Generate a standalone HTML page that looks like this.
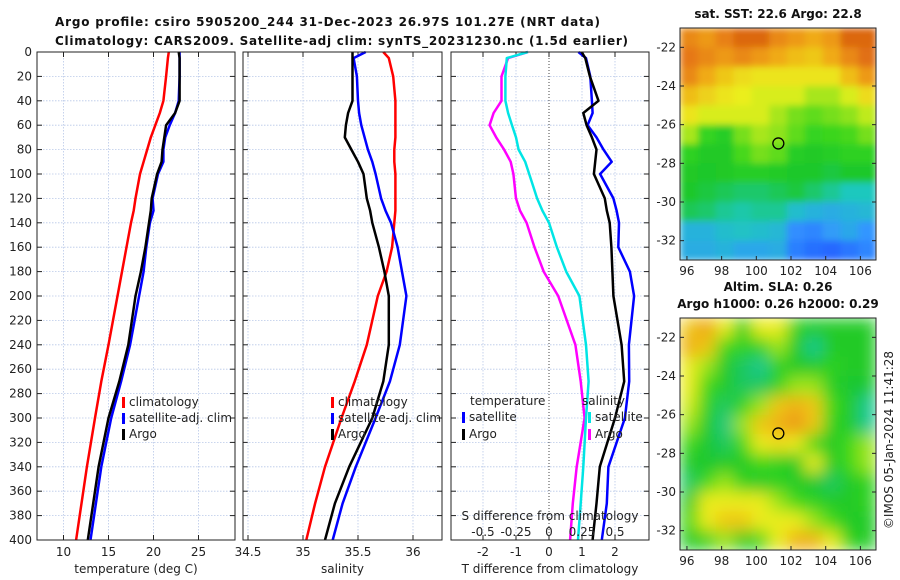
<!DOCTYPE html>
<html><head><meta charset="utf-8">
<style>
html,body{margin:0;padding:0;background:#fff;width:900px;height:580px;overflow:hidden}
svg{display:block;font-family:"DejaVu Sans","Liberation Sans",sans-serif}
.t{font-size:12px;fill:#222}
.b{font-size:12px;font-weight:bold;fill:#111}
</style></head>
<body>
<svg id="fig" width="900" height="580" viewBox="0 0 900 580" xmlns="http://www.w3.org/2000/svg">
<defs>
<filter id="blurS" x="0" y="0" width="1" height="1"><feGaussianBlur stdDeviation="3.5" edgeMode="duplicate"/></filter>
<filter id="blurA" x="0" y="0" width="1" height="1"><feGaussianBlur stdDeviation="8" edgeMode="duplicate"/></filter>
<clipPath id="c1"><rect x="680" y="28" width="196" height="232"/></clipPath>
<clipPath id="c2"><rect x="680" y="318" width="196" height="232"/></clipPath>
</defs>
<text class="b" x="55" y="26" textLength="545">Argo profile: csiro 5905200_244 31-Dec-2023 26.97S 101.27E (NRT data)</text>
<text class="b" x="55" y="45" textLength="573">Climatology: CARS2009. Satellite-adj clim: synTS_20231230.nc (1.5d earlier)</text>
<g id="root"></g>
<text class="t" transform="translate(893,440) rotate(-90)" text-anchor="middle">©IMOS 05-Jan-2024 11:41:28</text>
</svg>
<script>
// ---- data ----
const depths      = [0,5,20,40,50,60,70,80,90,100,120,130,140,160,180,200,240,270,300,340,370,400];
const tempClim    = [21.7,21.6,21.4,21.1,20.7,20.2,19.7,19.3,18.9,18.5,18.0,17.8,17.5,17.0,16.5,16.0,15.0,14.2,13.5,12.6,12.0,11.4];
const tempSat     = [22.9,22.9,22.9,22.8,22.4,21.8,21.3,21.1,21.1,20.5,19.9,20.0,19.6,19.2,18.9,18.4,17.4,16.4,15.3,14.2,13.6,13.0];
const tempArgo    = [22.8,22.9,22.9,22.9,22.4,21.4,21.2,21.0,20.9,20.4,19.8,19.7,19.5,19.1,18.6,18.0,17.2,16.2,15.0,13.9,13.3,12.7];
const salClim     = [35.73,35.78,35.82,35.84,35.84,35.84,35.84,35.83,35.83,35.84,35.84,35.84,35.83,35.81,35.76,35.68,35.58,35.47,35.35,35.20,35.11,35.03];
const salSat      = [35.57,35.46,35.49,35.50,35.51,35.53,35.56,35.59,35.63,35.66,35.71,35.75,35.80,35.86,35.90,35.94,35.88,35.79,35.66,35.48,35.36,35.27];
const salArgo     = [35.45,35.45,35.45,35.45,35.41,35.39,35.38,35.44,35.50,35.55,35.58,35.61,35.63,35.69,35.74,35.78,35.78,35.73,35.63,35.42,35.29,35.20];
const dTSat       = [0.89,1.12,1.25,1.30,1.32,1.17,1.44,1.65,1.90,1.55,1.95,2.05,2.12,2.10,2.45,2.58,2.42,2.43,2.30,1.80,1.75,1.60];
const dTArgo      = [0.99,1.10,1.24,1.50,1.04,1.14,1.30,1.44,1.40,1.36,1.69,1.75,1.84,1.89,1.92,1.95,2.20,2.28,2.00,1.54,1.44,1.32];
const dSArgo      = [-0.16,-0.31,-0.36,-0.36,-0.42,-0.45,-0.40,-0.34,-0.29,-0.27,-0.25,-0.22,-0.17,-0.11,-0.04,0.07,0.20,0.24,0.27,0.21,0.18,0.16];
const dSSat       = [-0.16,-0.32,-0.33,-0.33,-0.31,-0.28,-0.25,-0.23,-0.18,-0.15,-0.09,-0.05,0.00,0.06,0.13,0.23,0.28,0.30,0.28,0.26,0.24,0.22];
const depthTicks  = [0,20,40,60,80,100,120,140,160,180,200,220,240,260,280,300,320,340,360,380,400];
const tempTicks   = [10,15,20,25];
const salTicks    = [34.5,35,35.5,36];
const dTTicks     = [-2,-1,0,1,2];
const dSTicks     = [-0.5,-0.25,0,0.25,0.5];
const dSTickLabels= ["-0.5","-0.25","0","0.25","0.5"];
const lonTicks    = [96,98,100,102,104,106];
const latTicks    = [-22,-24,-26,-28,-30,-32];
const sstGrid = [
[24.2,24.0,24.3,24.6,24.6,24.2,24.0,23.8,24.0,24.6,24.6],
[24.4,24.2,24.0,24.2,24.0,23.8,23.6,23.5,23.8,24.2,24.5],
[24.2,23.8,23.5,23.3,23.2,23.2,23.2,23.2,23.2,23.6,24.0],
[23.6,23.4,23.2,23.1,23.0,23.0,23.0,22.8,22.8,23.0,23.3],
[23.2,23.0,23.0,23.0,23.0,22.8,22.6,22.5,22.6,22.7,22.9],
[22.8,22.2,21.8,22.6,22.8,22.7,22.5,22.2,22.3,22.4,22.6],
[22.0,21.6,21.6,22.4,22.6,22.5,21.8,21.6,21.8,22.0,22.0],
[21.6,21.5,21.6,21.8,21.8,21.7,21.5,21.5,21.4,21.5,21.5],
[21.5,21.4,21.3,21.2,21.2,21.3,21.4,21.2,21.0,20.8,20.8],
[21.3,21.2,21.0,20.9,21.0,21.0,20.6,20.4,20.3,20.4,20.5],
[20.4,20.4,20.6,20.7,20.6,20.5,19.8,19.7,20.0,20.2,19.9],
[20.3,20.3,20.4,20.2,20.2,20.3,19.6,19.4,19.3,19.5,19.7]];
const slaGrid = [
[0.35,0.40,0.30,0.15,0.30,0.30,0.15,0.10,0.10,0.10,0.10],
[0.38,0.35,0.20,0.15,0.15,0.25,0.10,0.02,0.10,0.10,0.10],
[0.30,0.25,0.10,0.05,0.02,0.15,0.10,0.10,0.15,0.10,0.10],
[0.30,0.20,0.10,0.05,0.05,0.15,0.25,0.25,0.12,0.08,0.08],
[0.28,0.15,0.05,0.15,0.25,0.35,0.38,0.35,0.20,0.10,0.02],
[0.25,0.10,0.03,0.25,0.35,0.38,0.42,0.35,0.15,0.10,0.02],
[0.20,0.08,0.05,0.20,0.30,0.32,0.30,0.20,0.10,0.20,0.25],
[0.10,0.08,0.10,0.10,0.20,0.15,0.10,0.30,0.10,0.20,0.25],
[0.05,0.20,0.25,0.15,0.10,0.15,0.10,0.08,0.05,0.10,0.15],
[0.10,0.30,0.30,0.30,0.30,0.25,0.20,0.15,0.10,0.10,0.15],
[0.20,0.30,0.35,0.35,0.30,0.30,0.30,0.25,0.20,0.10,0.10],
[0.10,0.15,0.25,0.10,0.20,0.30,0.38,0.38,0.30,0.15,0.10]];
const argoLon = 101.27, argoLat = -26.97;

// ---- helpers ----
const NS="http://www.w3.org/2000/svg";
const root=document.getElementById('root');
function el(tag,attrs,parent){const e=document.createElementNS(NS,tag);for(const k in attrs)e.setAttribute(k,attrs[k]);(parent||root).appendChild(e);return e;}
function txt(x,y,s,anchor,parent,size){const e=el('text',{x:x,y:y,'text-anchor':anchor||'start',class:'t'},parent);if(size)e.setAttribute('font-size',size);e.textContent=s;return e;}
const Y0=52,Y1=540;
const yD=d=>Y0+(d/400)*(Y1-Y0);
function lin(d0,d1,r0,r1){return v=>r0+(v-d0)/(d1-d0)*(r1-r0);}

function panel(name,x0,x1,xs,xt,xl,xtitle){
  const g=el('g',{});
  
  
  el('rect',{x:x0,y:Y0,width:x1-x0,height:Y1-Y0,fill:'#fff'},g);
  depthTicks.forEach(d=>{
    if(d>0&&d<400){const l=el('line',{x1:x0,x2:x1,y1:yD(d),y2:yD(d),stroke:'#b8c8e8','stroke-width':0.8,'stroke-dasharray':'1.5 1.5'},g);
      }
    el('line',{x1:x0,x2:x0+5,y1:yD(d),y2:yD(d),stroke:'#222'},g);
    el('line',{x1:x1,x2:x1-5,y1:yD(d),y2:yD(d),stroke:'#222'},g);
  });
  xt.forEach((v,i)=>{
    const X=xs(v);
    if(X>x0+1&&X<x1-1){const zero=(v===0&&name==='diff-panel');
      el('line',{x1:X,x2:X,y1:Y0,y2:Y1,stroke:zero?'#444':'#b8c8e8','stroke-width':zero?1:0.8,'stroke-dasharray':zero?'1 2':'1.5 1.5'},g);}
    el('line',{x1:X,x2:X,y1:Y1,y2:Y1-5,stroke:'#222'},g);
    el('line',{x1:X,x2:X,y1:Y0,y2:Y0+5,stroke:'#222'},g);
    const t=txt(X,556,xl?xl[i]:String(v),'middle',g);
    
  });
  const tt=txt((x0+x1)/2,573,xtitle,'middle',g);
  
  return g;
}
function frame(g,x0,x1){el('rect',{x:x0,y:Y0,width:x1-x0,height:Y1-Y0,fill:'none',stroke:'#222','stroke-width':1},g);}
function line(g,xs,vals,color,name,w){
  const p=vals.map((v,i)=>xs(v).toFixed(1)+','+yD(depths[i]).toFixed(1)).join(' ');
  const l=el('polyline',{points:p,fill:'none',stroke:color,'stroke-width':w||2.5,'stroke-linejoin':'round'},g);
  
  
}
function legend(g,x,y,color,label,name){
  const r=el('rect',{x:x,y:y-9,width:3,height:11,fill:color},g);
  
  const t=txt(x+7,y,label,'start',g,13);
  
}

// depth labels
depthTicks.forEach(d=>{const t=txt(32,yD(d)+4,String(d),'end',root,12.5);});

// Panel 1 temperature
const xT=lin(10,25,63.5,198.5);
const p1=panel('temperature-panel',37,235,xT,tempTicks,null,'temperature (deg C)');
line(p1,xT,tempClim,'#ff0000','temp-climatology-line');
line(p1,xT,tempSat,'#0000ff','temp-satellite-line');
line(p1,xT,tempArgo,'#000000','temp-argo-line');
legend(p1,122,406,'#ff0000','climatology','legend-climatology');
legend(p1,122,422,'#0000ff','satellite-adj. clim','legend-satellite');
legend(p1,122,438,'#000000','Argo','legend-argo');
frame(p1,37,235);

// Panel 2 salinity
const xS=lin(34.5,36,248,413);
const p2=panel('salinity-panel',243,442,xS,salTicks,null,'salinity');
line(p2,xS,salClim,'#ff0000','sal-climatology-line');
line(p2,xS,salSat,'#0000ff','sal-satellite-line');
line(p2,xS,salArgo,'#000000','sal-argo-line');
legend(p2,331,406,'#ff0000','climatology','legend-sal-climatology');
legend(p2,331,422,'#0000ff','satellite-adj. clim','legend-sal-satellite');
legend(p2,331,438,'#000000','Argo','legend-sal-argo');
frame(p2,243,442);

// Panel 3 differences
const xDT=lin(-2,2,483,615);
const xDS=lin(-0.5,0.5,483,615);
const p3=panel('diff-panel',451,649,xDT,dTTicks,null,'T difference from climatology');
line(p3,xDS,dSArgo,'#ff00ff','sal-diff-argo-line');
line(p3,xDS,dSSat,'#00e5e5','sal-diff-satellite-line');
line(p3,xDT,dTSat,'#0000ff','temp-diff-satellite-line');
line(p3,xDT,dTArgo,'#000000','temp-diff-argo-line');
{const t=txt(470,405,'temperature','start',p3,13);}
legend(p3,462,421,'#0000ff','satellite','legend-temp-satellite');
legend(p3,462,438,'#000000','Argo','legend-temp-argo');
{const t=txt(582,405,'salinity','start',p3,13);}
legend(p3,588,421,'#00e5e5','satellite','legend-sal-satellite');
legend(p3,588,438,'#ff00ff','Argo','legend-sal-argo');
dSTicks.forEach((v,i)=>{const t=txt(xDS(v),536,dSTickLabels[i],'middle',p3,13);});
{const t=txt(550,520,'S difference from climatology','middle',p3,13);}
frame(p3,451,649);

// Maps
function colorSST(v){return cmap((v-19)/6);}
function colorSLA(v){return cmap((v+0.25)/0.8);}
function cmap(f){
  const st=[[0,[30,80,255]],[0.15,[50,150,255]],[0.3,[30,200,190]],[0.42,[30,200,40]],[0.56,[60,215,30]],[0.68,[235,240,30]],[0.8,[240,170,20]],[0.9,[230,120,20]],[1,[200,70,10]]];
  f=Math.max(0,Math.min(1,f));
  for(let i=1;i<st.length;i++){if(f<=st[i][0]){const a=st[i-1],b=st[i],t=(f-a[0])/(b[0]-a[0]);
    return 'rgb('+a[1].map((c,k)=>Math.round(c+(b[1][k]-c)*t)).join(',')+')';}}
  return 'rgb(200,70,10)';
}
function map(name,grid,colf,y0,clip,filt,title1,title2){
  const g=el('g',{});
  
  
  const x0=680,w=196,h=232,rows=grid.length,cols=grid[0].length;
  const cg=el('g',{'clip-path':'url(#'+clip+')'},g);
  const ig=el('g',{filter:'url(#'+filt+')'},cg);
  grid.forEach((row,r)=>row.forEach((v,c)=>{
    const cell=el('rect',{x:(x0+c*w/cols).toFixed(1),y:(y0+r*h/rows).toFixed(1),width:(w/cols+0.6).toFixed(1),height:(h/rows+0.6).toFixed(1),fill:colf(v)},ig);
    
    
  }));
  const lonX=lin(95.6,106.9,x0,x0+w), latY=lin(-21,-33,y0,y0+h);
  el('rect',{x:x0,y:y0,width:w,height:h,fill:'none',stroke:'#222'},g);
  lonTicks.forEach(v=>{const X=lonX(v);el('line',{x1:X,x2:X,y1:y0+h,y2:y0+h-4,stroke:'#222'},g);
    const t=txt(X,y0+h+15,String(v),'middle',g,12.5);});
  latTicks.forEach(v=>{const Y=latY(v);el('line',{x1:x0,x2:x0+4,y1:Y,y2:Y,stroke:'#222'},g);el('line',{x1:x0+w,x2:x0+w-4,y1:Y,y2:Y,stroke:'#222'},g);
    const t=txt(x0-4,Y+4,String(v),'end',g,12.5);});
  const m=el('circle',{cx:lonX(argoLon),cy:latY(argoLat),r:5.5,fill:'none',stroke:'#000','stroke-width':1.3},g);
  
  if(title1){const t=el('text',{x:778,y:y0-27,'text-anchor':'middle',class:'b'},g);t.textContent=title1;}
  const t2=el('text',{x:778,y:y0-10,'text-anchor':'middle',class:'b'},g);t2.textContent=title2;
  
}
map('sst-map',sstGrid,colorSST,28,'c1','blurS',null,'sat. SST: 22.6 Argo: 22.8');
map('sla-map',slaGrid,colorSLA,318,'c2','blurA','Altim. SLA: 0.26','Argo h1000: 0.26 h2000: 0.29');
</script>
</body></html>
